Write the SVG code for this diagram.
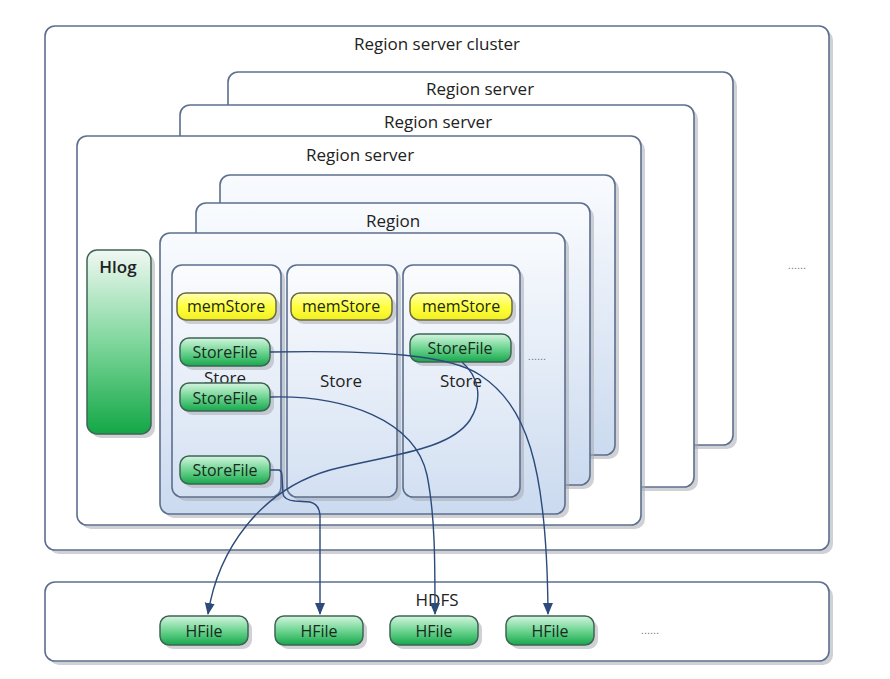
<svg xmlns="http://www.w3.org/2000/svg" width="890" height="679" viewBox="0 0 890 679">
<defs>
<linearGradient id="gRegion" x1="0" y1="0" x2="0" y2="1"><stop offset="0" stop-color="#f9fbfe"/><stop offset="1" stop-color="#cbdaef"/></linearGradient>
<linearGradient id="gStore" x1="0" y1="0" x2="0" y2="1"><stop offset="0" stop-color="#fbfcfe"/><stop offset="1" stop-color="#d3e0f2"/></linearGradient>
<linearGradient id="gMem" x1="0" y1="0" x2="0" y2="1"><stop offset="0" stop-color="#ffffb0"/><stop offset="0.5" stop-color="#ffff40"/><stop offset="1" stop-color="#f2f020"/></linearGradient>
<linearGradient id="gFile" x1="0" y1="0" x2="0" y2="1"><stop offset="0" stop-color="#d4f5df"/><stop offset="0.5" stop-color="#6fd592"/><stop offset="1" stop-color="#17a84c"/></linearGradient>
<linearGradient id="gHlog" x1="0" y1="0" x2="0" y2="1"><stop offset="0" stop-color="#f0f8f3"/><stop offset="0.5" stop-color="#7fd79c"/><stop offset="1" stop-color="#13a746"/></linearGradient>
<marker id="arr" markerUnits="userSpaceOnUse" markerWidth="12" markerHeight="12" viewBox="0 0 12 12" refX="11" refY="6" orient="auto"><path d="M0,1 L12,6 L0,11 Z" fill="#2c4a7a"/></marker>
</defs>
<style>
.box{fill:#ffffff;stroke:#5c6f8e;stroke-width:1.6}
.sh{fill:#a9acb2;opacity:0.55}
.reg{fill:url(#gRegion);stroke:#5c6f8e;stroke-width:1.6}
.store{fill:url(#gStore);stroke:#5c6f8e;stroke-width:1.6}
.mem{fill:url(#gMem);stroke:#6b6a45;stroke-width:1.5}
.file{fill:url(#gFile);stroke:#3f6455;stroke-width:1.5}
.t{font-family:"Open Sans","Liberation Sans",sans-serif;font-size:17px;fill:#222;text-anchor:middle}
.ts{font-family:"Open Sans","Liberation Sans",sans-serif;font-size:16px;fill:#1a2a1e;text-anchor:middle}
.dots{font-family:"Liberation Sans",sans-serif;font-size:11px;fill:#777;text-anchor:middle}
.c{fill:none;stroke:#2c4a7a;stroke-width:1.4}
</style>

<g id="cluster">
<rect class="sh" x="49" y="30" width="784" height="524" rx="10"/>
<rect class="box" x="45" y="26" width="784" height="524" rx="10"/>
<text class="t" x="437" y="50">Region server cluster</text>
<text class="dots" x="797" y="269">......</text>
</g>

<g id="server3">
<rect class="sh" x="232" y="76" width="505" height="373" rx="10"/>
<rect class="box" x="228" y="72" width="505" height="373" rx="10"/>
<text class="t" x="480" y="95">Region server</text>
</g>
<g id="server2">
<rect class="sh" x="184" y="109" width="514" height="382" rx="10"/>
<rect class="box" x="180" y="105" width="514" height="382" rx="10"/>
<text class="t" x="438" y="128">Region server</text>
</g>
<g id="server1">
<rect class="sh" x="81" y="140" width="564" height="389" rx="10"/>
<rect class="box" x="77" y="136" width="564" height="389" rx="10"/>
<text class="t" x="360" y="161">Region server</text>
</g>

<g id="hlog">
<rect class="sh" x="91" y="254" width="64" height="184" rx="10"/>
<rect x="87" y="250" width="64" height="184" rx="10" fill="url(#gHlog)" stroke="#3f6455" stroke-width="1.5"/>
<text class="t" x="118" y="273" style="font-weight:600">Hlog</text>
</g>

<g id="region3">
<rect class="sh" x="224" y="179" width="395" height="280" rx="10"/>
<rect class="reg" x="220" y="175" width="395" height="280" rx="10"/>
</g>
<g id="region2">
<rect class="sh" x="200" y="207" width="394" height="282" rx="10"/>
<rect class="reg" x="196" y="203" width="394" height="282" rx="10"/>
<text class="t" x="393" y="227">Region</text>
</g>
<g id="region1">
<rect class="sh" x="164" y="237" width="405" height="281" rx="10"/>
<rect class="reg" x="160" y="233" width="405" height="281" rx="10"/>
<text class="dots" x="537" y="360">......</text>
</g>

<g id="store1">
<rect class="sh" x="176" y="269" width="109" height="232" rx="10"/>
<rect class="store" x="172" y="265" width="109" height="232" rx="10"/>
<text class="t" x="225" y="384">Store</text>
</g>
<g id="store2">
<rect class="sh" x="291" y="269" width="110" height="232" rx="10"/>
<rect class="store" x="287" y="265" width="110" height="232" rx="10"/>
<text class="t" x="341" y="387">Store</text>
</g>
<g id="store3">
<rect class="sh" x="407" y="269" width="117" height="232" rx="10"/>
<rect class="store" x="403" y="265" width="117" height="232" rx="10"/>
<text class="t" x="461" y="387">Store</text>
</g>

<g id="memstore1"><rect class="sh" x="181" y="297" width="99" height="27" rx="9"/><rect class="mem" x="177" y="293" width="99" height="27" rx="9"/><text class="ts" x="226" y="312">memStore</text></g>
<g id="memstore2"><rect class="sh" x="295" y="297" width="101" height="27" rx="9"/><rect class="mem" x="291" y="293" width="101" height="27" rx="9"/><text class="ts" x="341" y="312">memStore</text></g>
<g id="memstore3"><rect class="sh" x="414" y="297" width="102" height="27" rx="9"/><rect class="mem" x="410" y="293" width="102" height="27" rx="9"/><text class="ts" x="461" y="312">memStore</text></g>

<g id="storefile1"><rect class="sh" x="184" y="342" width="90" height="28" rx="9"/><rect class="file" x="180" y="338" width="90" height="28" rx="9"/><text class="ts" x="225" y="358">StoreFile</text></g>
<g id="storefile2"><rect class="sh" x="184" y="387" width="90" height="28" rx="9"/><rect class="file" x="180" y="383" width="90" height="28" rx="9"/><text class="ts" x="225" y="404">StoreFile</text></g>
<g id="storefile3"><rect class="sh" x="184" y="460" width="90" height="28" rx="9"/><rect class="file" x="180" y="456" width="90" height="28" rx="9"/><text class="ts" x="225" y="476">StoreFile</text></g>
<g id="storefile4"><rect class="sh" x="414" y="338" width="101" height="28" rx="9"/><rect class="file" x="410" y="334" width="101" height="28" rx="9"/><text class="ts" x="460" y="354">StoreFile</text></g>

<g id="hdfs">
<rect class="sh" x="49" y="586" width="784" height="79" rx="10"/>
<rect class="box" x="45" y="582" width="784" height="79" rx="10"/>
<text class="t" x="437" y="606">HDFS</text>
<text class="dots" x="650" y="634">......</text>
</g>
<g id="hfile1"><rect class="sh" x="164" y="620" width="88" height="29" rx="9"/><rect class="file" x="160" y="616" width="88" height="29" rx="9"/><text class="ts" x="204" y="637">HFile</text></g>
<g id="hfile2"><rect class="sh" x="279" y="620" width="88" height="29" rx="9"/><rect class="file" x="275" y="616" width="88" height="29" rx="9"/><text class="ts" x="319" y="637">HFile</text></g>
<g id="hfile3"><rect class="sh" x="394" y="620" width="88" height="29" rx="9"/><rect class="file" x="390" y="616" width="88" height="29" rx="9"/><text class="ts" x="434" y="637">HFile</text></g>
<g id="hfile4"><rect class="sh" x="510" y="620" width="88" height="29" rx="9"/><rect class="file" x="506" y="616" width="88" height="29" rx="9"/><text class="ts" x="550" y="637">HFile</text></g>

<g id="connectors">
<path class="c" marker-end="url(#arr)" d="M270,352 C380,350 450,355 480,375 C525,405 547,460 548,614"/>
<path class="c" marker-end="url(#arr)" d="M462,362 C478,376 484,398 470,420 C450,450 390,455 330,470 C260,490 218,550 208,614"/>
<path class="c" marker-end="url(#arr)" d="M270,397 C345,395 415,420 427,475 C435,515 435,560 435,614"/>
<path class="c" marker-end="url(#arr)" d="M270,470 L279,470 Q282,471 282,476 L283,494 Q284,500 295,501 L310,502 Q319,504 320,515 L320,614"/>
</g>
</svg>
